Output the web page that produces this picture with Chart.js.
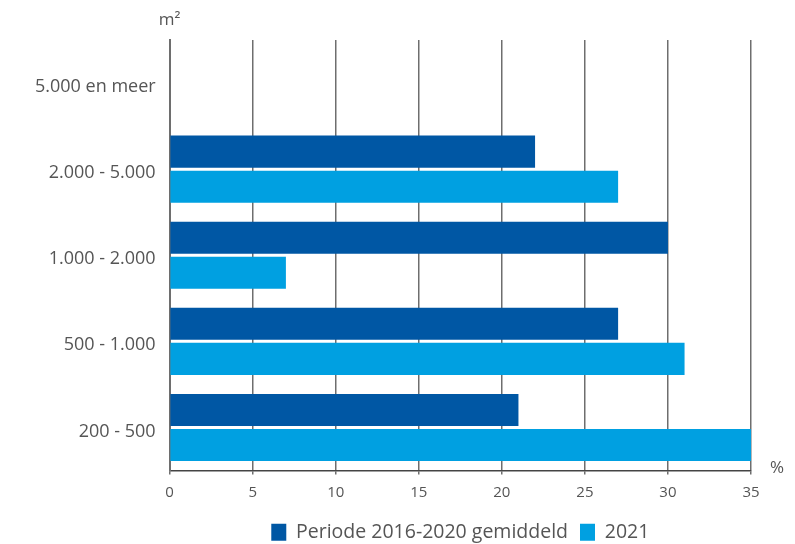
<!DOCTYPE html>
<html>
<head>
<meta charset="utf-8">
<script src="https://cdn.jsdelivr.net/npm/chart.js@4"></script>
<style>
  html, body { margin: 0; padding: 0; background: #fff; }
  #wrap { width: 795px; height: 544px; position: relative; }
</style>
</head>
<body>
<div id="wrap"><canvas id="c"></canvas></div>
<script>
const categories = ['5.000 en meer', '2.000 - 5.000', '1.000 - 2.000', '500 - 1.000', '200 - 500'];
const periodValues = [0, 22, 30, 27, 21];
const values2021 = [0, 27, 7, 31, 35];
const seriesNames = ['Periode 2016-2020 gemiddeld', '2021'];
const xTicks = [0, 5, 10, 15, 20, 25, 30, 35];

const colors = { period: '#0057a4', y2021: '#00a0e1', grid: '#6e6e6e', axis: '#444', text: '#555' };

// unit labels: m² above the category axis, % after the value axis
const unitLabels = {
  id: 'unitLabels',
  afterDraw(chart) {
    const { ctx, chartArea } = chart;
    ctx.save();
    ctx.fillStyle = colors.text;
    ctx.font = '17px "Open Sans"';
    ctx.textBaseline = 'middle';
    ctx.textAlign = 'center';
    ctx.fillText('m²', chartArea.left, 20);
    ctx.textAlign = 'left';
    ctx.fillText('%', chartArea.right + 19, chartArea.bottom - 2);
    ctx.restore();
  }
};

new Chart(document.getElementById('c'), {
  type: 'bar',
  data: {
    labels: categories,
    datasets: [
      { label: seriesNames[0], data: periodValues, backgroundColor: colors.period },
      { label: seriesNames[1], data: values2021, backgroundColor: colors.y2021 },
    ]
  },
  options: {
    indexAxis: 'y',
    responsive: true, maintainAspectRatio: false, animation: false,
    categoryPercentage: 0.814, barPercentage: 0.914,
    layout: { padding: { top: 40, right: 44, left: 21, bottom: -8 } },
    plugins: {
      legend: {
        position: 'bottom', fullSize: false,
        labels: { color: colors.text, font: { family: 'Open Sans', size: 19.5 }, boxWidth: 15, boxHeight: 17, padding: 12 }
      },
      tooltip: { enabled: false }
    },
    scales: {
      x: {
        min: 0, max: 35,
        afterBuildTicks: (axis) => { axis.ticks = xTicks.map(v => ({ value: v })); },
        grid: { color: colors.grid, lineWidth: 1.5, tickLength: 4, drawTicks: true },
        border: { color: colors.axis, width: 1.5 },
        ticks: { color: colors.text, font: { family: 'Open Sans', size: 15 }, padding: 9 }
      },
      y: {
        grid: { display: false, tickLength: 0 },
        border: { color: colors.grid, width: 2 },
        ticks: { color: colors.text, font: { family: 'Open Sans', size: 18 }, padding: 14, labelOffset: 4 }
      }
    }
  },
  plugins: [unitLabels]
});
</script>
</body>
</html>
